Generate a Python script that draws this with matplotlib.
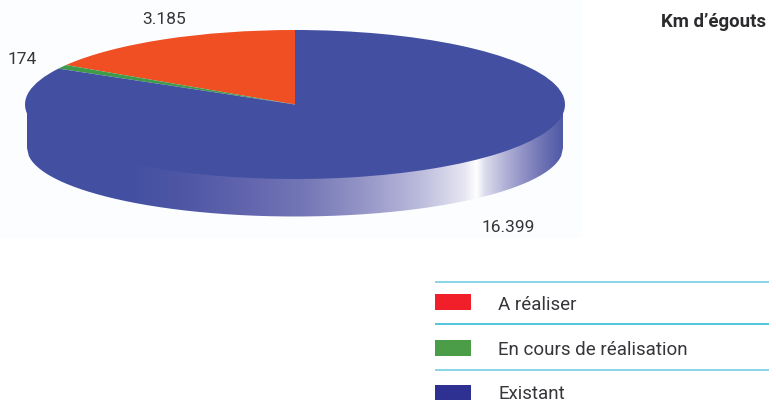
import numpy as np
import matplotlib
matplotlib.use("Agg")
import matplotlib.pyplot as plt
from matplotlib.colors import to_rgb
from matplotlib.patches import Rectangle, PathPatch
from matplotlib.path import Path

W, H = 776, 414
categories = ["A réaliser", "En cours de réalisation", "Existant"]
values = [3185, 174, 16399]
value_labels = ["3.185", "174", "16.399"]
title = "Km d’égouts"
pie_colors = ["#F04E23", "#3F9B4A", "#4350A2"]
legend_colors = ["#F01F29", "#4B9E47", "#2E3092"]

plt.rcParams["font.family"] = ["Roboto", "DejaVu Sans"]
fig = plt.figure(figsize=(W / 100, H / 100), dpi=100, facecolor="white")
ax = fig.add_axes([0, 0, 1, 1])
ax.set_xlim(0, W)
ax.set_ylim(H, 0)
ax.axis("off")

ax.add_patch(Rectangle((0, 0), 583, 239, fc="#FCFDFF", ec="none", zorder=0))

# Pie side wall with horizontal gradient
cx, cy, rx, ry = 295, 105.5, 270, 74.5
bcy, brx, bry = 149, 268, 68.5
xs = np.linspace(27, 563, 300)
top = cy + ry * np.sqrt(np.clip(1 - ((xs - cx) / rx) ** 2, 0, 1)) - 3
bot = bcy + bry * np.sqrt(np.clip(1 - ((xs - cx) / brx) ** 2, 0, 1))
verts = np.vstack([np.c_[xs, top], np.c_[xs[::-1], bot[::-1]], [[xs[0], top[0]]]])
clip = PathPatch(Path(verts), fc="none", ec="none", transform=ax.transData)
ax.add_patch(clip)
stops_x = [27, 130, 190, 250, 300, 360, 420, 465, 477, 486, 510, 540, 563]
stops_c = ["#4350A2", "#4350A2", "#5058A6", "#6366AE", "#7275B5", "#9393C6", "#BBBBDC",
           "#E6E6F3", "#FFFFFF", "#DADAEC", "#A9A9D2", "#7377B7", "#4F59A6"]
rgb = np.array([to_rgb(c) for c in stops_c])
grid = np.arange(27, 564)
img = np.stack([np.interp(grid, stops_x, rgb[:, i]) for i in range(3)], axis=-1)[None, :, :]
im = ax.imshow(img, extent=(27, 563, 220, 100), aspect="auto", zorder=1, interpolation="bilinear")
im.set_clip_path(clip)
ax.set_xlim(0, W)
ax.set_ylim(H, 0)

# Pie top, squashed into an ellipse
pax = fig.add_axes([(cx - rx) / W, (H - cy - ry) / H, 2 * rx / W, 2 * ry / H])
pax.pie(values, colors=pie_colors, startangle=90, counterclock=True, radius=1,
        wedgeprops={"linewidth": 0})
pax.set_aspect("auto")
pax.set_xlim(-1, 1)
pax.set_ylim(-1, 1)
pax.patch.set_alpha(0)

txt = "#35363A"
fs_value = 12.5
fs_legend = 13.5
label_pos = [(164, 19), (22, 60), (508, 228)]
for s, (x, y) in zip(value_labels, label_pos):
    ax.text(x, y, s, ha="center", va="center", fontsize=fs_value, color=txt, zorder=5)
ax.text(766, 22, title, ha="right", va="center", fontsize=13.4, fontweight="bold", color="#2B2B2E", zorder=5)

# Legend
rule_y = [282.5, 324.5, 370.5]
rule_c = ["#7FD2E4", "#45C1DA", "#7FD2E4"]
swatch_y = [295, 341, 386]
text_y = [305.5, 350.5, 394.5]
for ry_, rc, sy, ty, name, col in zip(rule_y, rule_c, swatch_y, text_y, categories, legend_colors):
    ax.plot([435, 769], [ry_, ry_], color=rc, lw=1.3, solid_capstyle="butt", zorder=3)
    ax.add_patch(Rectangle((435, sy), 36, 15.5, fc=col, ec="none", zorder=3))
    ax.text(498, ty, name, ha="left", va="center", fontsize=fs_legend, color=txt, zorder=5)

fig.savefig("out.png", dpi=100)
